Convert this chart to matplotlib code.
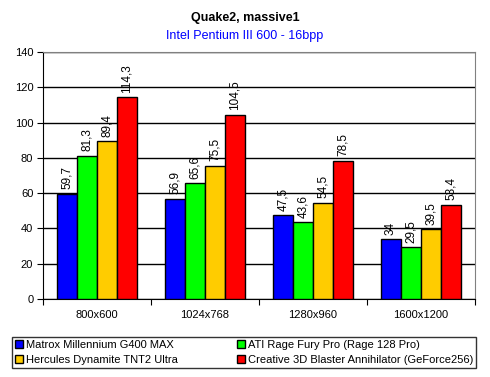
import matplotlib.pyplot as plt
import numpy as np

# Data.
resolutions = ["800x600", "1024x768", "1280x960", "1600x1200"]
cards = ["Matrox Millennium G400 MAX",
         "ATI Rage Fury Pro (Rage 128 Pro)",
         "Hercules Dynamite TNT2 Ultra",
         "Creative 3D Blaster Annihilator (GeForce256)"]
matrox = [59.7, 56.9, 47.5, 34]
ati = [81.3, 65.6, 43.6, 29.5]
hercules = [89.4, 75.5, 54.5, 39.5]
creative = [114.3, 104.5, 78.5, 53.4]
colors = ["#0000FF", "#00FF00", "#FFCC00", "#FF0000"]


def fmt(v):
    s = ("%.1f" % v).rstrip("0").rstrip(".")
    return s.replace(".", ",")


plt.rcParams["font.family"] = ["Liberation Sans", "DejaVu Sans"]
fig = plt.figure(figsize=(4.9, 3.77), dpi=100)
W, H = 490.0, 377.0
ax = fig.add_axes([43 / W, 1 - 299 / H, 432 / W, 247 / H])

x = np.arange(len(resolutions))
width = 0.185
series = [matrox, ati, hercules, creative]
handles = []
for i, vals in enumerate(series):
    pos = x + (i - 1.5) * width
    b = ax.bar(pos, vals, width, color=colors[i], edgecolor="black",
               linewidth=1.0, zorder=3, label=cards[i])
    handles.append(b)
    for p, v in zip(pos, vals):
        ax.text(p, v + 2.5, fmt(v), rotation=90, ha="center", va="bottom",
                fontsize=8.5, zorder=4)

ax.set_xlim(-0.5, 3.5)
ax.set_ylim(0, 140)
ax.set_yticks(range(0, 141, 20))
ax.yaxis.grid(True, color="black", linewidth=1.0, zorder=0)
ax.set_xticks([-0.5, 0.5, 1.5, 2.5, 3.5])
ax.set_xticklabels([])
ax.set_xticks(x, minor=True)
ax.set_xticklabels(resolutions, minor=True, fontsize=8)
ax.tick_params(axis="x", which="major", length=4, direction="out", color="black")
ax.tick_params(axis="x", which="minor", length=0, pad=8)
ax.tick_params(axis="y", length=4, labelsize=8, pad=3)
for side in ["top", "right"]:
    ax.spines[side].set_color("#808080")
for side in ["left", "bottom"]:
    ax.spines[side].set_color("black")

fig.text(0.5, 1 - 18 / H, "Quake2, massive1", ha="center", va="center",
         fontsize=9, fontweight="bold")
fig.text(0.5, 1 - 36 / H, "Intel Pentium III 600 - 16bpp", ha="center",
         va="center", fontsize=9, color="#0000FF")

order = [0, 2, 1, 3]
leg = fig.legend([handles[i] for i in order], [cards[i] for i in order],
                 ncol=2, loc="lower left",
                 bbox_to_anchor=(12 / W, 1 - 368 / H, 464 / W, 36 / H),
                 mode="expand", fontsize=8, frameon=True, fancybox=False,
                 handlelength=0.7, handleheight=0.7, handletextpad=0.3,
                 borderpad=0.25, labelspacing=0.45, columnspacing=1.0,
                 borderaxespad=0)
leg.get_frame().set_edgecolor("black")
leg.get_frame().set_linewidth(1.0)

fig.savefig("out.png", dpi=100)
